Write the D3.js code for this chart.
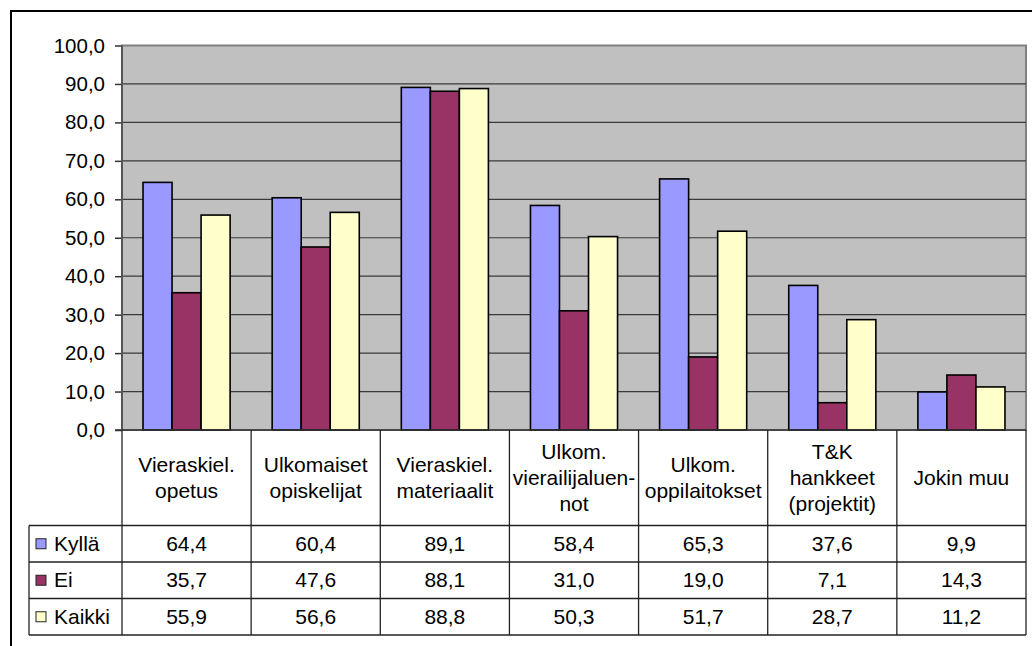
<!DOCTYPE html>
<html>
<head>
<meta charset="utf-8">
<script src="https://cdn.jsdelivr.net/npm/d3@7"></script>
<style>
  html, body { margin: 0; padding: 0; background: #fff; }
  svg { display: block; }
  text { font-family: "Liberation Sans", Arial, sans-serif; fill: #000; }
</style>
</head>
<body>
<svg id="chart" width="1032" height="646"></svg>
<script>
// ---- data ----
const categories = [
  "Vieraskiel.\nopetus",
  "Ulkomaiset\nopiskelijat",
  "Vieraskiel.\nmateriaalit",
  "Ulkom.\nvierailijaluen-\nnot",
  "Ulkom.\noppilaitokset",
  "T&K\nhankkeet\n(projektit)",
  "Jokin muu"
];
const seriesNames = ["Kyllä", "Ei", "Kaikki"];
const kylla  = [64.4, 60.4, 89.1, 58.4, 65.3, 37.6, 9.9];
const ei     = [35.7, 47.6, 88.1, 31.0, 19.0, 7.1, 14.3];
const kaikki = [55.9, 56.6, 88.8, 50.3, 51.7, 28.7, 11.2];
const yTicks = [0, 10, 20, 30, 40, 50, 60, 70, 80, 90, 100];
const seriesColors = ["#9999FF", "#993366", "#FFFFCC"];

const seriesValues = [kylla, ei, kaikki];

// ---- layout ----
const svg = d3.select("#chart");
const plot = { left: 122, right: 1026, top: 45.5, bottom: 430 };
const table = { left: 29, labelBottom: 525.5, rowH: 36.5 };
const fontSize = 21;
const tickFontSize = 20.5;

const locale = d3.formatLocale({ decimal: ",", thousands: "\u00a0", grouping: [3], currency: ["", "€"] });
const fmt = locale.format(".1f");

const x = d3.scaleBand().domain(categories).range([plot.left, plot.right]).padding(0);
const xs = d3.scaleBand().domain(seriesNames).range([0, x.bandwidth()])
  .paddingInner(0).paddingOuter(21 / 29);
const y = d3.scaleLinear().domain([0, 100]).range([plot.bottom, plot.top]);

// outer border
svg.append("rect")
  .attr("x", 11).attr("y", 11).attr("width", 1060).attr("height", 700)
  .attr("fill", "none").attr("stroke", "#000").attr("stroke-width", 2);

// plot area background
svg.append("rect")
  .attr("x", plot.left).attr("y", plot.top)
  .attr("width", plot.right - plot.left).attr("height", plot.bottom - plot.top)
  .attr("fill", "#C0C0C0").attr("stroke", "#808080").attr("stroke-width", 2);

// gridlines
svg.append("g").selectAll("line").data(yTicks.filter(d => d > 0)).join("line")
  .attr("x1", plot.left).attr("x2", plot.right)
  .attr("y1", d => y(d)).attr("y2", d => y(d))
  .attr("stroke", d => d === 100 ? "#808080" : "#3a3a3a").attr("stroke-width", 1.2);

// y axis
const yAxis = d3.axisLeft(y).tickValues(yTicks).tickSize(7).tickPadding(10).tickFormat(fmt);
const gy = svg.append("g").attr("transform", `translate(${plot.left},0)`).call(yAxis);
gy.select(".domain").remove();
gy.selectAll(".tick line").attr("stroke", "#333").attr("stroke-width", 1.5);
gy.selectAll(".tick text")
  .style("font-family", '"Liberation Sans", Arial, sans-serif')
  .style("font-size", tickFontSize + "px").attr("fill", "#000");
svg.append("line")
  .attr("x1", plot.left).attr("x2", plot.left).attr("y1", plot.top).attr("y2", plot.bottom)
  .attr("stroke", "#555").attr("stroke-width", 2);

// bars
const groups = svg.append("g").selectAll("g").data(categories).join("g")
  .attr("transform", d => `translate(${x(d)},0)`);
groups.selectAll("rect")
  .data((c, i) => seriesNames.map((s, j) => ({ s, j, v: seriesValues[j][i] })))
  .join("rect")
  .attr("x", d => xs(d.s))
  .attr("width", xs.bandwidth())
  .attr("y", d => y(d.v))
  .attr("height", d => y(0) - y(d.v))
  .attr("fill", d => seriesColors[d.j])
  .attr("stroke", "#000").attr("stroke-width", 1.6);

// zero axis line
svg.append("line")
  .attr("x1", plot.left - 7).attr("x2", plot.right).attr("y1", plot.bottom).attr("y2", plot.bottom)
  .attr("stroke", "#333").attr("stroke-width", 1.5);

// ---- data table ----
const tg = svg.append("g");
const tableBottom = table.labelBottom + table.rowH * 3;
const lineColor = "#222";
const bounds = categories.map(c => x(c)).concat([plot.right]);
tg.selectAll("line.v").data(bounds).join("line")
  .attr("x1", d => d).attr("x2", d => d)
  .attr("y1", plot.bottom).attr("y2", tableBottom)
  .attr("stroke", lineColor).attr("stroke-width", 1.3);
tg.append("line")
  .attr("x1", table.left).attr("x2", table.left)
  .attr("y1", table.labelBottom).attr("y2", tableBottom)
  .attr("stroke", lineColor).attr("stroke-width", 1.3);
tg.selectAll("line.h").data([0, 1, 2, 3]).join("line")
  .attr("x1", table.left).attr("x2", plot.right)
  .attr("y1", d => table.labelBottom + d * table.rowH)
  .attr("y2", d => table.labelBottom + d * table.rowH)
  .attr("stroke", lineColor).attr("stroke-width", 1.3);

// category labels (clipped to their cells)
const defs = svg.append("defs");
categories.forEach((c, i) => {
  defs.append("clipPath").attr("id", "clip" + i).append("rect")
    .attr("x", x(c) + 1).attr("y", plot.bottom)
    .attr("width", x.bandwidth() - 2).attr("height", table.labelBottom - plot.bottom);
});
const lh = 26;
const cellMid = (plot.bottom + table.labelBottom) / 2;
categories.forEach((c, i) => {
  const lines = c.split("\n");
  const t = tg.append("text")
    .attr("clip-path", `url(#clip${i})`)
    .attr("text-anchor", "middle")
    .style("font-size", fontSize + "px");
  lines.forEach((ln, k) => {
    t.append("tspan")
      .attr("x", x(c) + x.bandwidth() / 2)
      .attr("y", cellMid - (lines.length - 1) * lh / 2 + k * lh + 7)
      .text(ln);
  });
});

// legend column and values
seriesNames.forEach((s, j) => {
  const rowMid = table.labelBottom + j * table.rowH + table.rowH / 2;
  tg.append("rect")
    .attr("x", 36).attr("y", rowMid - 5).attr("width", 10).attr("height", 10)
    .attr("fill", seriesColors[j]).attr("stroke", "#222").attr("stroke-width", 1);
  tg.append("text")
    .attr("x", 54).attr("y", rowMid + 7)
    .style("font-size", fontSize + "px")
    .text(s);
  tg.selectAll(null).data(seriesValues[j]).join("text")
    .attr("x", (d, i) => x(categories[i]) + x.bandwidth() / 2)
    .attr("y", rowMid + 7)
    .attr("text-anchor", "middle")
    .style("font-size", fontSize + "px")
    .text(d => fmt(d));
});
</script>
</body>
</html>
